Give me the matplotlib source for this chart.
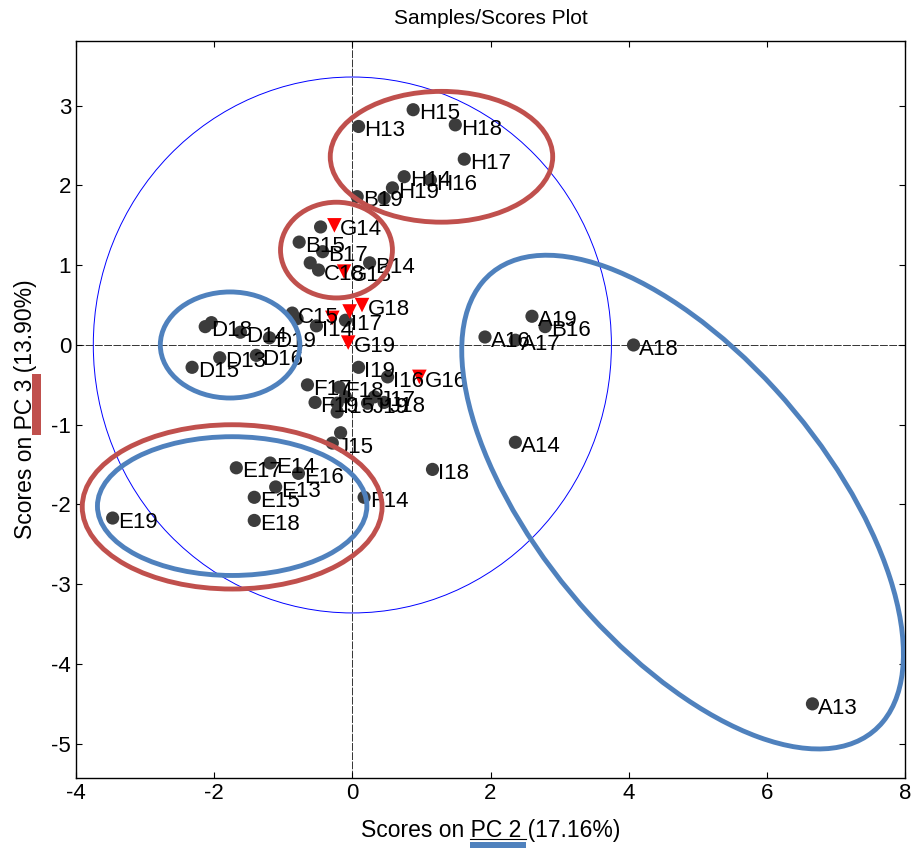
import matplotlib
matplotlib.use('Agg')
import numpy as np
import matplotlib.pyplot as plt
from matplotlib.patches import Ellipse, Rectangle
from matplotlib.lines import Line2D

plt.rcParams['font.family'] = ['Liberation Sans', 'DejaVu Sans']
plt.rcParams['axes.unicode_minus'] = False

# samples drawn as dark circles (empty name = label hidden under others)
circle_names = ['A13', 'A14', 'A16', 'A17', 'A18', 'A19', 'B16',
                'B14', 'B15', 'B17', 'B19', 'C18', '', '',
                'C15', '', 'I14', 'I17',
                'D13', 'D14', 'D15', 'D16', '', 'D18', 'D19',
                'E13', 'E14', 'E15', 'E16', 'E17', 'E18', 'E19',
                'F14', 'F17', 'F18', 'F19',
                'H13', 'H14', 'H15', 'H16', 'H17', 'H18', 'H19', '',
                'I15', '', '', 'J19', 'J17', 'J18',
                'I16', 'I18', 'I19', 'J15', '']
circle_x = [6.66, 2.36, 1.92, 2.36, 4.07, 2.60, 2.79,
            0.25, -0.77, -0.43, 0.07, -0.49, -0.61, -0.46,
            -0.87, -0.80, -0.52, -0.10,
            -1.92, -1.62, -2.32, -1.39, -2.04, -2.13, -1.20,
            -1.11, -1.19, -1.42, -0.78, -1.68, -1.42, -3.47,
            0.17, -0.65, -0.19, -0.54,
            0.09, 0.75, 0.88, 1.13, 1.62, 1.49, 0.58, 0.46,
            -0.22, -0.22, -0.10, 0.22, 0.32, 0.46,
            0.51, 1.16, 0.09, -0.29, -0.17]
circle_y = [-4.50, -1.22, 0.10, 0.06, 0.00, 0.36, 0.23,
            1.03, 1.29, 1.17, 1.86, 0.94, 1.03, 1.48,
            0.40, 0.33, 0.24, 0.31,
            -0.16, 0.16, -0.28, -0.13, 0.28, 0.23, 0.09,
            -1.78, -1.48, -1.91, -1.61, -1.54, -2.20, -2.17,
            -1.91, -0.50, -0.53, -0.72,
            2.74, 2.11, 2.95, 2.07, 2.33, 2.76, 1.97, 1.84,
            -0.73, -0.84, -0.65, -0.73, -0.65, -0.72,
            -0.40, -1.56, -0.28, -1.23, -1.10]

# samples drawn as red triangles
tri_names = ['G13', 'G14', '', 'G16', '', 'G18', 'G19']
tri_x = [-0.12, -0.26, -0.29, 0.97, -0.04, 0.14, -0.06]
tri_y = [0.92, 1.50, 0.34, -0.40, 0.42, 0.50, 0.03]

# confidence ellipse and group ellipses: (cx, cy, width, height, angle)
conf_ell = (0.0, 0.0, 7.5, 6.72, 0)
red_ells = [(1.29, 2.36, 3.22, 1.64, 0),
            (-0.23, 1.19, 1.62, 1.20, 0),
            (-1.74, -2.03, 4.34, 2.06, 0)]
blue_ells = [(-1.77, 0.0, 2.02, 1.33, 0),
             (-1.74, -2.02, 3.90, 1.74, 0),
             (4.78, -1.97, 8.0, 3.9, -43.5)]

fig = plt.figure(figsize=(9.16, 8.48), dpi=100)
ax = fig.add_axes([0.083, 0.0825, 0.905, 0.869])

ax.axhline(0, color='#333333', lw=0.7, ls=(0, (8, 1.5)), zorder=1)
ax.axvline(0, color='#333333', lw=0.7, ls=(0, (8, 1.5)), zorder=1)

cx, cy, w, h, a = conf_ell
ax.add_patch(Ellipse((cx, cy), w, h, angle=a, fill=False, ec='blue', lw=0.7, zorder=1))

ax.scatter(circle_x, circle_y, s=90, c='#3c3c3c', edgecolors='none', zorder=3)
ax.scatter(tri_x, tri_y, s=110, c='red', marker='v', edgecolors='none', zorder=4)

for n, x, y in zip(circle_names + tri_names, circle_x + tri_x, circle_y + tri_y):
    if n:
        ax.annotate(n, (x, y), xytext=(4, -3), textcoords='offset points',
                    fontsize=16, va='center', ha='left', zorder=5)

for e in red_ells:
    ax.add_patch(Ellipse((e[0], e[1]), e[2], e[3], angle=e[4], fill=False,
                         ec='#C0504D', lw=3.5, zorder=6))
for e in blue_ells:
    ax.add_patch(Ellipse((e[0], e[1]), e[2], e[3], angle=e[4], fill=False,
                         ec='#4F81BD', lw=3.5, zorder=6))

ax.set_xlim(-4, 8)
ax.set_ylim(-5.43, 3.81)
ax.set_xticks(np.arange(-4, 9, 2))
ax.set_yticks(np.arange(-5, 4, 1))
ax.tick_params(direction='in', top=True, right=True, labelsize=16, length=4, width=0.8)
for s in ax.spines.values():
    s.set_linewidth(1.0)

ax.set_title('Samples/Scores Plot', fontsize=15, pad=12)
ax.set_xlabel('Scores on PC 2 (17.16%)', fontsize=16.5, labelpad=11)
ax.set_ylabel('Scores on PC 3 (13.90%)', fontsize=16.5, labelpad=10)

# highlight marks beside the axis labels
W, H = 916, 848
fig.add_artist(Rectangle((470 / W, 0), 56 / W, 6 / H, transform=fig.transFigure,
                         color='#4F81BD', lw=0))
fig.add_artist(Line2D([470 / W, 526 / W], [(H - 839) / H] * 2, transform=fig.transFigure,
                      color='black', lw=0.8))
fig.add_artist(Rectangle((32 / W, (H - 435) / H), 9 / W, 61 / H, transform=fig.transFigure,
                         color='#C0504D', lw=0))

fig.savefig('out.png', dpi=100)
